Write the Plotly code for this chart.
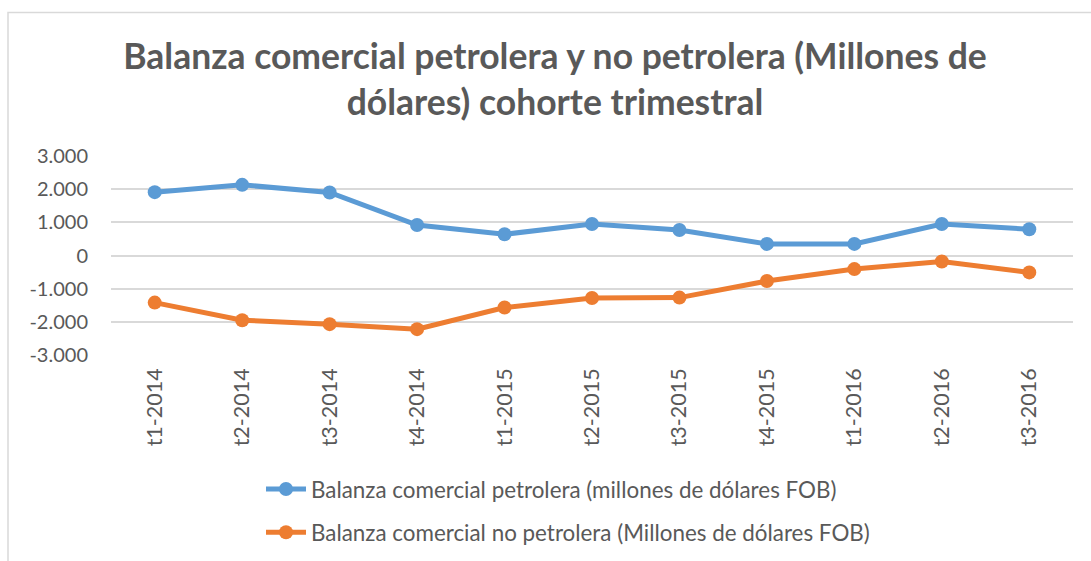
import plotly.graph_objects as go

categories = ["t1-2014", "t2-2014", "t3-2014", "t4-2014", "t1-2015", "t2-2015",
              "t3-2015", "t4-2015", "t1-2016", "t2-2016", "t3-2016"]
petrolera = [1910, 2130, 1900, 920, 640, 950, 770, 350, 350, 950, 790]
no_petrolera = [-1420, -1950, -2070, -2220, -1570, -1280, -1270, -770, -410, -180, -510]
y_ticks = [-3000, -2000, -1000, 0, 1000, 2000, 3000]
y_tick_labels = ["-3.000", "-2.000", "-1.000", "0", "1.000", "2.000", "3.000"]

name_p = "Balanza comercial petrolera (millones de dólares FOB)"
name_np = "Balanza comercial no petrolera (Millones de dólares FOB)"
title = "Balanza comercial petrolera y no petrolera (Millones de<br>dólares) cohorte trimestral"

TXT = "#595959"
FONT = "Lato, 'Open Sans', sans-serif"

fig = go.Figure()
fig.add_trace(go.Scatter(x=categories, y=petrolera, name=name_p, mode="lines+markers",
                         legendgroup="p",
                         line=dict(color="#5B9BD5", width=5),
                         marker=dict(color="#5B9BD5", size=14)))
fig.add_trace(go.Scatter(x=categories, y=no_petrolera, name=name_np, mode="lines+markers",
                         legendgroup="np",
                         line=dict(color="#ED7D31", width=5),
                         marker=dict(color="#ED7D31", size=14)))

L, R, T, B = 111, 1073, 156, 355
W, H = 1091, 561
pw, ph = R - L, B - T

def px(x):
    return (x - L) / pw

def py(y):
    return (B - y) / ph

fig.update_layout(
    width=W, height=H,
    margin=dict(l=L, r=W - R, t=T, b=H - B, pad=0, autoexpand=False),
    paper_bgcolor="white", plot_bgcolor="white",
    font=dict(family=FONT, color=TXT, size=19),
    title=dict(text=title, x=555 / W, xanchor="center", y=1 - 69 / H, yanchor="middle",
               font=dict(family=FONT, size=35.5, color=TXT, weight="bold")),
    xaxis=dict(type="category", range=[-0.5, len(categories) - 0.5], tickangle=-90,
               showgrid=False, zeroline=False, automargin=False,
               showline=False, ticks="", tickfont=dict(size=21.5, color=TXT),
               ticklabelstandoff=8),
    yaxis=dict(range=[-3000, 3000], tickvals=y_ticks, ticktext=y_tick_labels,
               showgrid=True, gridcolor="#D9D9D9", gridwidth=1.5, zeroline=False,
               showline=False, ticks="", tickfont=dict(size=20, color=TXT),
               ticklabelstandoff=22, automargin=False),
    legend=dict(orientation="v", x=px(261), y=py(468), xanchor="left", yanchor="top",
                font=dict(size=22.4, color=TXT, family=FONT), tracegroupgap=11,
                itemwidth=40, bgcolor="rgba(0,0,0,0)"),
    showlegend=True,
    shapes=[dict(type="rect", xref="paper", yref="paper",
                 x0=px(8), x1=px(1100), y0=py(570), y1=py(12.5),
                 line=dict(color="#D9D9D9", width=1.5), fillcolor="rgba(0,0,0,0)",
                 layer="below")],
)

fig.write_html("out.html", config={"displayModeBar": False},
               post_script="document.body.style.margin='0';document.body.style.overflow='hidden';")
